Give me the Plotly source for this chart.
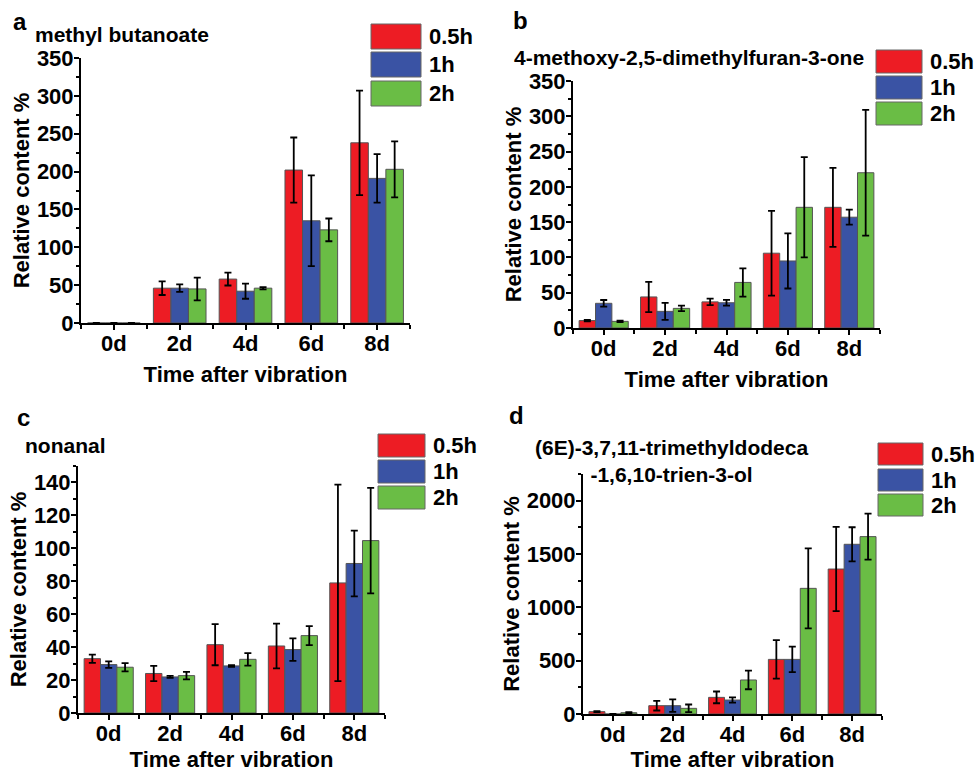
import plotly.graph_objects as go

# ---------------- data ----------------
categories = ["0d", "2d", "4d", "6d", "8d"]
series_names = ["0.5h", "1h", "2h"]
series_colors = ["#ED1C24", "#3A53A4", "#6ABD45"]

# panel a: methyl butanoate
a_title = "methyl butanoate"
a_05h = [0, 46, 58, 202, 238]
a_05h_err = [None, 9, 8.5, 43, 69]
a_1h = [0, 46, 42, 135, 191]
a_1h_err = [None, 5, 10, 60, 32]
a_2h = [0, 45, 46, 123, 203]
a_2h_err = [None, 15, 1.5, 15, 37]

# panel b: 4-methoxy-2,5-dimethylfuran-3-one
b_title = "4-methoxy-2,5-dimethylfuran-3-one"
b_05h = [10.5, 44, 37, 106, 171]
b_05h_err = [1, 21.5, 4.7, 60, 56]
b_1h = [35, 23.6, 35.8, 95, 157]
b_1h_err = [4.7, 12, 4, 39, 10.6]
b_2h = [9.4, 27.8, 64.6, 171, 220]
b_2h_err = [1, 4, 20, 71, 89]

# panel c: nonanal
c_title = "nonanal"
c_05h = [33, 24, 41.5, 40.7, 79]
c_05h_err = [2.5, 4.6, 12.5, 13.6, 59.7]
c_1h = [29.4, 21.9, 28.6, 38.5, 90.8]
c_1h_err = [2, 0.6, 0.5, 6.8, 20]
c_2h = [27.8, 22.7, 32.6, 47, 104.7]
c_2h_err = [2.5, 2.3, 3.8, 5.8, 32]

# panel d: (6E)-3,7,11-trimethyldodeca-1,6,10-trien-3-ol
d_title = "(6E)-3,7,11-trimethyldodeca<br>-1,6,10-trien-3-ol"
d_05h = [22, 78, 156, 512, 1359]
d_05h_err = [5, 45, 55, 180, 395]
d_1h = [0, 78, 131, 512, 1591]
d_1h_err = [None, 59, 25, 119, 160]
d_2h = [12, 53, 319, 1178, 1663]
d_2h_err = [5, 36, 87, 375, 216]

y_ranges = {"a": [0, 350], "b": [0, 350], "c": [0, 150], "d": [0, 2250]}
y_dticks = {"a": 50, "b": 50, "c": 20, "d": 500}
y_minor = {"a": 25, "b": 25, "c": 10, "d": 250}

# ---------------- layout helpers ----------------
W, H = 975, 772
FONT = "Liberation Sans, Arial, sans-serif"


def fx(px):
    return px / W


def fy(py):
    return 1 - py / H


panels = [
    dict(key="a", title=a_title, vals=[a_05h, a_1h, a_2h], errs=[a_05h_err, a_1h_err, a_2h_err],
         box=(81, 410, 58, 323), letter=(11, 31), name_pos=(33, 43, "left"),
         legend=(371, 421, [24, 52, 81], 25)),
    dict(key="b", title=b_title, vals=[b_05h, b_1h, b_2h], errs=[b_05h_err, b_1h_err, b_2h_err],
         box=(573, 880, 81, 328), letter=(511, 30), name_pos=(512, 66, "left"),
         legend=(876, 922, [50, 76, 102], 23)),
    dict(key="c", title=c_title, vals=[c_05h, c_1h, c_2h], errs=[c_05h_err, c_1h_err, c_2h_err],
         box=(78, 385, 466, 713), letter=(15, 427), name_pos=(23, 454, "left"),
         legend=(378, 425, [434, 460, 486], 23)),
    dict(key="d", title=d_title, vals=[d_05h, d_1h, d_2h], errs=[d_05h_err, d_1h_err, d_2h_err],
         box=(583, 882, 474, 714), letter=(507, 425), name_pos=(671, 483, "center"),
         legend=(878, 923, [443, 469, 494], 22)),
]

fig = go.Figure()
annotations = []
shapes = []
xpos = list(range(len(categories)))

for i, p in enumerate(panels):
    n = "" if i == 0 else str(i + 1)
    xa, ya = "x" + n, "y" + n
    for s in range(3):
        fig.add_trace(go.Bar(
            x=xpos, y=p["vals"][s], name=series_names[s],
            marker=dict(color=series_colors[s], line=dict(color="#555555", width=1)),
            error_y=dict(type="data", array=p["errs"][s], visible=True,
                         color="black", thickness=1.8, width=3.5),
            xaxis=xa, yaxis=ya, showlegend=False,
        ))
    x0, x1, y0, y1 = p["box"]
    k = p["key"]
    fig.layout["xaxis" + n] = dict(
        domain=[fx(x0), fx(x1)], anchor=ya, range=[-0.5, len(categories) - 0.5],
        automargin=False,
        tickmode="array", tickvals=xpos, ticktext=categories,
        showline=True, linecolor="black", linewidth=2, mirror=False,
        ticks="outside", ticklen=5, tickwidth=2, tickcolor="black",
        ticklabelstandoff=-5,
        minor=dict(ticks="outside", tick0=0.5, dtick=1, ticklen=4, tickwidth=1.5, tickcolor="black"),
        showgrid=False, zeroline=False,
        tickfont=dict(family=FONT, size=22, color="black", weight="bold"),
        title=dict(text="Time after vibration", standoff=11,
                   font=dict(family=FONT, size=22, color="black", weight="bold")),
    )
    fig.layout["yaxis" + n] = dict(
        domain=[fy(y1), fy(y0)], anchor=xa, range=y_ranges[k], dtick=y_dticks[k],
        automargin=False,
        showline=True, linecolor="black", linewidth=2, mirror=False,
        ticks="outside", ticklen=5, tickwidth=2, tickcolor="black",
        ticklabelstandoff=-4,
        minor=dict(ticks="outside", dtick=y_minor[k], ticklen=3, tickwidth=1.5, tickcolor="black"),
        showgrid=False, zeroline=False,
        tickfont=dict(family=FONT, size=22, color="black", weight="bold"),
        title=dict(text="Relative content %", standoff=1,
                   font=dict(family=FONT, size=22, color="black", weight="bold")),
    )
    # panel letter
    lx, lby = p["letter"]
    annotations.append(dict(xref="paper", yref="paper", x=fx(lx), y=fy(lby + 6),
                            xanchor="left", yanchor="bottom", showarrow=False, text=k,
                            font=dict(family=FONT, size=24, color="black", weight="bold")))
    # compound name
    nx, nby, anc = p["name_pos"]
    annotations.append(dict(xref="paper", yref="paper", x=fx(nx), y=fy(nby + 5),
                            xanchor=anc, yanchor="bottom", showarrow=False, text=p["title"],
                            align="center",
                            font=dict(family=FONT, size=21, color="black", weight="bold")))
    # legend swatches
    sx0, sx1, tops, h = p["legend"]
    for s in range(3):
        shapes.append(dict(type="rect", xref="paper", yref="paper",
                           x0=fx(sx0), x1=fx(sx1), y0=fy(tops[s] + h), y1=fy(tops[s]),
                           fillcolor=series_colors[s], line=dict(color="#666666", width=1)))
        annotations.append(dict(xref="paper", yref="paper", x=fx(sx1 + 6), y=fy(tops[s] + h / 2),
                                xanchor="left", yanchor="middle", showarrow=False,
                                text=series_names[s],
                                font=dict(family=FONT, size=22, color="black", weight="bold")))

fig.update_layout(
    template="none",
    width=W, height=H, margin=dict(l=0, r=0, t=0, b=0, autoexpand=False),
    paper_bgcolor="white", plot_bgcolor="white",
    barmode="group", bargap=0.2, bargroupgap=0,
    annotations=annotations, shapes=shapes, showlegend=False,
)

fig.write_html("out.html", config={"displayModeBar": False},
               post_script="document.body.style.margin='0px';")
